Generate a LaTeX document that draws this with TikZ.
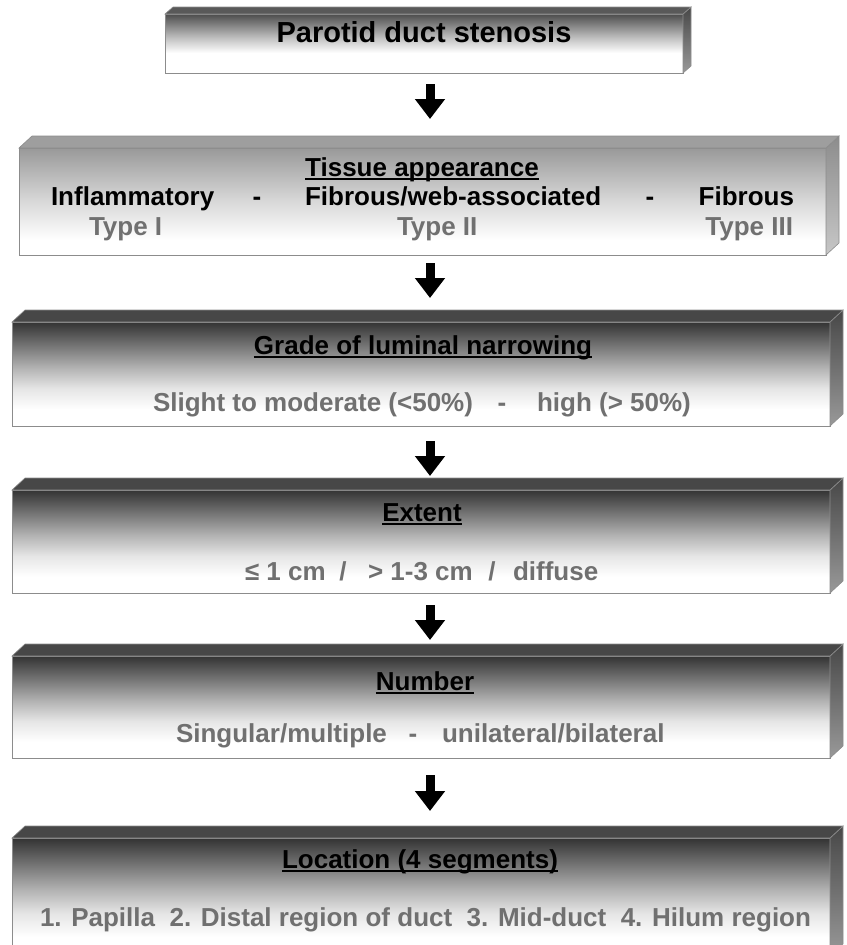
\documentclass[tikz,border=0pt]{standalone}
\usepackage{fontspec}
\setmainfont{Liberation Sans}
\usetikzlibrary{arrows.meta}
\definecolor{subgray}{HTML}{707070}
\definecolor{edgegray}{HTML}{8C8C8C}
% TikZ fits a path into the middle 25bp..75bp of a shading
\pgfdeclareverticalshading{darkface}{100bp}{color(0bp)=(white); color(33bp)=(white); color(43bp)=(black!10); color(53bp)=(black!30); color(64bp)=(black!55); color(75bp)=(black!80); color(100bp)=(black!80)}
\pgfdeclareverticalshading{titleface}{100bp}{color(0bp)=(white); color(42bp)=(white); color(55bp)=(black!25); color(75bp)=(black!70); color(100bp)=(black!70)}
\pgfdeclareverticalshading{lightface}{100bp}{color(0bp)=(white); color(32bp)=(white); color(50bp)=(black!15); color(75bp)=(black!40); color(100bp)=(black!40)}
\pgfdeclareverticalshading{darkside}{100bp}{color(0bp)=(black!40); color(25bp)=(black!40); color(75bp)=(black!72); color(100bp)=(black!72)}
\pgfdeclareverticalshading{lightside}{100bp}{color(0bp)=(black!22); color(25bp)=(black!22); color(75bp)=(black!45); color(100bp)=(black!45)}
\newcommand\myul[1]{\setbox0\hbox{#1}\rlap{\rule[-4pt]{\wd0}{2pt}}\box0}
\tikzset{
  frontbox/.style={draw=edgegray, line width=0.8pt, inner sep=0pt, outer sep=0pt, anchor=north west},
  darkbox/.style={frontbox, shading=darkface},
  lightbox/.style={frontbox, shading=lightface},
  titlebox/.style={frontbox, shading=titleface},
  topface/.style={draw=edgegray, line width=0.6pt, fill=black!72},
  sideface/.style={draw=edgegray, line width=0.6pt, shading=darkside},
  lsideface/.style={draw=edgegray, line width=0.6pt, shading=lightside},
  txt/.style={inner sep=0pt, outer sep=0pt, font=\bfseries\fontsize{26}{28}\selectfont},
  head/.style={txt, anchor=base},
  sub/.style={txt, text=subgray},
  bigarrow/.style={line width=9pt, -{Triangle[width=29pt,length=20pt]}}
}
\begin{document}
\begin{tikzpicture}[x=1pt,y=-1pt]
\useasboundingbox (0,0) rectangle (846,945);
% ---------- Box 1
\node[titlebox, minimum width=518pt, minimum height=59pt] (b1) at (165,14) {};
\path[sideface] (b1.north east) -- ++(8,-7) -- ([shift={(8,-7)}]b1.south east) -- (b1.south east) -- cycle;
\path[topface, fill=black!65] (b1.north west) -- ++(8,-7) -- ([shift={(8,-7)}]b1.north east) -- (b1.north east) -- cycle;
\node[head, font=\bfseries\fontsize{29}{30}\selectfont] (t1) at (424,42) {Parotid duct stenosis};
% ---------- Box 2
\node[lightbox, minimum width=807pt, minimum height=107pt] (b2) at (19,148) {};
\path[lsideface] (b2.north east) -- ++(13,-12) -- ([shift={(13,-12)}]b2.south east) -- (b2.south east) -- cycle;
\path[topface, fill=black!38] (b2.north west) -- ++(13,-12) -- ([shift={(13,-12)}]b2.north east) -- (b2.north east) -- cycle;
\node[head] (h2) at (422,176) {\myul{Tissue appearance}};
\node[txt, anchor=base west] (r2a) at (51,205) {Inflammatory};
\node[txt, anchor=base] (r2b) at (257,205) {-};
\node[txt, anchor=base west] (r2c) at (305,205) {Fibrous/web-associated};
\node[txt, anchor=base] (r2d) at (650,205) {-};
\node[txt, anchor=base east] (r2e) at (794,205) {Fibrous};
\node[sub, anchor=base west] (s2a) at (89,235) {Type I};
\node[sub, anchor=base west] (s2b) at (397,235) {Type II};
\node[sub, anchor=base east] (s2c) at (793,235) {Type III};
% ---------- Box 3
\node[darkbox, minimum width=818pt, minimum height=104pt] (b3) at (12,322) {};
\path[sideface] (b3.north east) -- ++(13,-12) -- ([shift={(13,-12)}]b3.south east) -- (b3.south east) -- cycle;
\path[topface] (b3.north west) -- ++(13,-12) -- ([shift={(13,-12)}]b3.north east) -- (b3.north east) -- cycle;
\node[head] (h3) at (423,354) {\myul{Grade of luminal narrowing}};
\node[sub, anchor=base west] (s3a) at (153,411) {Slight to moderate (<50\%)};
\node[sub, anchor=base] (s3b) at (502,411) {-};
\node[sub, anchor=base west] (s3c) at (537,411) {high (> 50\%)};
% ---------- Box 4
\node[darkbox, minimum width=818pt, minimum height=103pt] (b4) at (12,490) {};
\path[sideface] (b4.north east) -- ++(13,-12) -- ([shift={(13,-12)}]b4.south east) -- (b4.south east) -- cycle;
\path[topface] (b4.north west) -- ++(13,-12) -- ([shift={(13,-12)}]b4.north east) -- (b4.north east) -- cycle;
\node[head] (h4) at (422,521) {\myul{Extent}};
\node[sub, anchor=base west] (s4a) at (245,580) {≤ 1 cm};
\node[sub, anchor=base] (s4b) at (343,580) {/};
\node[sub, anchor=base west] (s4c) at (368,580) {> 1-3 cm};
\node[sub, anchor=base] (s4d) at (492,580) {/};
\node[sub, anchor=base west] (s4e) at (513,580) {diffuse};
% ---------- Box 5
\node[darkbox, minimum width=818pt, minimum height=102pt] (b5) at (12,656) {};
\path[sideface] (b5.north east) -- ++(13,-12) -- ([shift={(13,-12)}]b5.south east) -- (b5.south east) -- cycle;
\path[topface] (b5.north west) -- ++(13,-12) -- ([shift={(13,-12)}]b5.north east) -- (b5.north east) -- cycle;
\node[head] (h5) at (425,690) {\myul{Number}};
\node[sub, anchor=base west] (s5a) at (176,742) {Singular/multiple};
\node[sub, anchor=base] (s5b) at (413,742) {-};
\node[sub, anchor=base west] (s5c) at (442,742) {unilateral/bilateral};
% ---------- Box 6
\node[darkbox, minimum width=818pt, minimum height=118pt] (b6) at (12,838) {};
\path[sideface] (b6.north east) -- ++(13,-12) -- ([shift={(13,-12)}]b6.south east) -- (b6.south east) -- cycle;
\path[topface] (b6.north west) -- ++(13,-12) -- ([shift={(13,-12)}]b6.north east) -- (b6.north east) -- cycle;
\node[head] (h6) at (420,868) {\myul{Location (4 segments)}};
\node[sub, anchor=base west] (s6) at (40,926) {1. Papilla\ \ 2. Distal region of duct\ \ 3. Mid-duct\ \ 4. Hilum region};
% ---------- Arrows
\coordinate (a1s) at (430,84);  \coordinate (a1e) at (430,119);
\coordinate (a2s) at (430,263); \coordinate (a2e) at (430,298);
\coordinate (a3s) at (430,441); \coordinate (a3e) at (430,476);
\coordinate (a4s) at (430,605); \coordinate (a4e) at (430,640);
\coordinate (a5s) at (430,775); \coordinate (a5e) at (430,811);
\draw[bigarrow] (a1s) -- (a1e);
\draw[bigarrow] (a2s) -- (a2e);
\draw[bigarrow] (a3s) -- (a3e);
\draw[bigarrow] (a4s) -- (a4e);
\draw[bigarrow] (a5s) -- (a5e);
\end{tikzpicture}
\end{document}
